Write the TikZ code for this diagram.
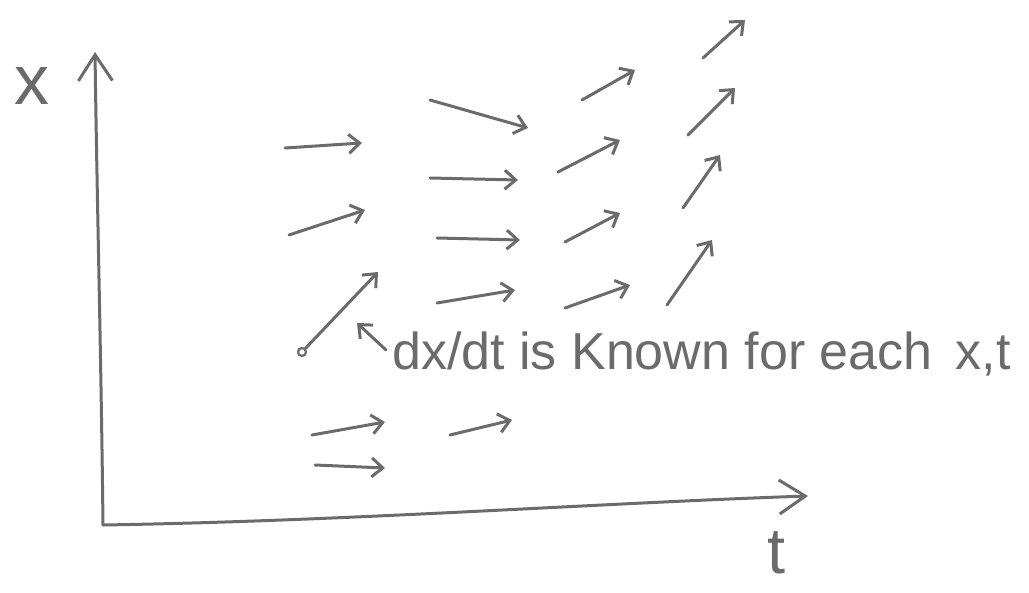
\documentclass[tikz,border=0pt]{standalone}
\usepackage{fontspec}
\setmainfont{Liberation Sans}
\usetikzlibrary{arrows.meta}
\definecolor{pencil}{HTML}{6B6B6B}
\begin{document}
\begin{tikzpicture}[x=1pt,y=-1pt,
  pen/.style={draw=pencil,line width=3pt,line cap=round,line join=round},
  vec/.style={pen,-{Straight Barb[length=11pt,width=19pt]}},
  axis/.style={pen,-{Straight Barb[length=26pt,width=34pt]}},
  hand/.style={text=pencil,inner sep=0pt}]
\useasboundingbox (0,0) rectangle (1029,593);
% axes
\coordinate (O) at (103,525);
\coordinate (xtop) at (95,52);
\coordinate (tend) at (808,496);
\draw[axis] (O) .. controls (101,350) and (97,200) .. (xtop);
\draw[axis] (O) .. controls (350,521) and (600,503) .. (tend);
\node[hand,font=\fontsize{70}{70}\selectfont] (xlab) at (32,86) {x};
\node[hand,font=\fontsize{65}{65}\selectfont] (tlab) at (777,553) {t};
% start dot of the highlighted vector
\node[draw=pencil,line width=2.2pt,circle,inner sep=0pt,minimum size=8pt] (dot) at (302,352) {};
% vector field
\foreach \n/\xa/\ya/\xb/\yb in {
  1/285/148/362/143, 2/289/235/365/210, 4/312/435/385/422, 5/315/465/385/468,
  6/430/100/528/128, 7/430/178/518/180, 8/437/238/520/240, 9/437/303/515/290,
  10/450/435/512/420,
  11/582/100/635/70, 12/558/172/620/140, 13/565/242/620/213, 14/565/308/630/285,
  15/703/58/745/20, 16/688/135/735/88, 17/683/208/720/155, 18/667/305/712/240}{
  \coordinate (s\n) at (\xa,\ya);
  \coordinate (e\n) at (\xb,\yb);
  \draw[vec] (s\n) -- (e\n);
}
\coordinate (e3) at (378,272);
\draw[vec] (dot) -- (e3);
% annotation
\node[hand,font=\fontsize{52}{52}\selectfont,anchor=base west] (lbl) at (392,370) {dx/dt is Known for each\, x,t};
\coordinate (p1) at (386,350);
\coordinate (p2) at (357,323);
\draw[vec] (p1) -- (p2);
\end{tikzpicture}
\end{document}
